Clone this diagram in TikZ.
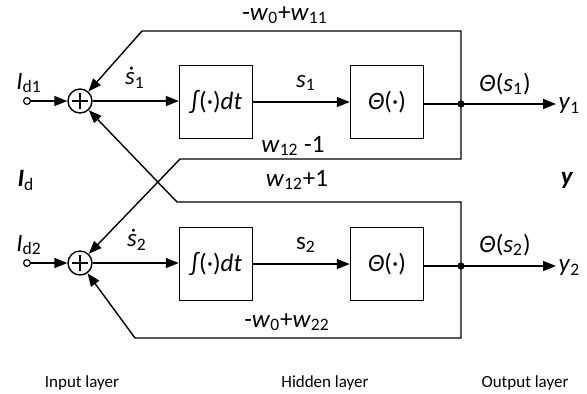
\documentclass[tikz,border=0pt]{standalone}
\usepackage{fontspec}
\setmainfont{Carlito}
\usetikzlibrary{arrows.meta}

\newcommand\lo[1]{\textsubscript{#1}}

\tikzset{
  blk/.style={draw, minimum width=36.5pt, minimum height=36.5pt, inner sep=0pt},
  sumnode/.style={draw, circle, minimum size=12pt, inner sep=0pt,
    path picture={\draw[line width=0.9pt] (path picture bounding box.center) +(-3.8pt,0) -- +(3.8pt,0)
      (path picture bounding box.center) +(0,-3.8pt) -- +(0,3.8pt);}},
  port/.style={draw, circle, fill=white, minimum size=3.4pt, inner sep=0pt, line width=0.6pt},
  jdot/.style={fill, circle, minimum size=3.6pt, inner sep=0pt},
  sig/.style={-{Triangle[length=6.5pt,width=5pt]}},
}

\begin{document}
\begin{tikzpicture}[x=0.5pt,y=-0.5pt,line width=0.7pt,font=\fontsize{12.5}{14}\selectfont]
\useasboundingbox (0,0) rectangle (587,393);

% first neuron
\node[port] (in1) at (27,101) {};
\node[sumnode] (sum1) at (80,101) {};
\node[blk] (int1) at (216,102) {∫(·)\textit{dt}};
\node[blk] (th1) at (387,102) {\textit{Θ}(·)};
\coordinate (j1) at (461,104);
\node[anchor=west, inner sep=1pt] (y1) at (556,106) {\textit{y}\lo{1}};

% second neuron
\node[port] (in2) at (27,263) {};
\node[sumnode] (sum2) at (80,263) {};
\node[blk] (int2) at (216,264) {∫(·)\textit{dt}};
\node[blk] (th2) at (387,264) {\textit{Θ}(·)};
\coordinate (j2) at (461,266);
\node[anchor=west, inner sep=1pt] (y2) at (556,268) {\textit{y}\lo{2}};

% forward paths
\draw[sig] (in1) -- (sum1);
\draw[sig] (sum1) -- (sum1 -| int1.west);
\draw[sig] (int1.east |- th1.west) -- (th1);
\draw (th1.east |- j1) -- (j1);
\draw[sig] (j1) -- (y1.west |- j1);
\node[jdot] at (j1) {};

\draw[sig] (in2) -- (sum2);
\draw[sig] (sum2) -- (sum2 -| int2.west);
\draw[sig] (int2.east |- th2.west) -- (th2);
\draw (th2.east |- j2) -- (j2);
\draw[sig] (j2) -- (y2.west |- j2);
\node[jdot] at (j2) {};

% feedback and cross connections
\coordinate (t1) at (142,31);
\coordinate (c1) at (180,159);
\coordinate (c2) at (177,202);
\coordinate (b2) at (135,338);
\draw[sig] (j1) |- (t1) -- (sum1);
\draw[sig] (j1) |- (c1) -- (sum2);
\draw[sig] (j2) |- (c2) -- (sum1);
\draw[sig] (j2) |- (b2) -- (sum2);

% weights
\node (w11) at (285,15) {-\textit{w}\lo{0}+\textit{w}\lo{11}};
\node (w12a) at (293,146) {\textit{w}\lo{12} -1};
\node (w12b) at (297,180) {\textit{w}\lo{12}+1};
\node (w22) at (287,322) {-\textit{w}\lo{0}+\textit{w}\lo{22}};

% signal names
\node (sd1) at (135,78) {\textit{ṡ}\lo{1}};
\node (sd2) at (137,240) {\textit{ṡ}\lo{2}};
\node (s1) at (306,83) {\textit{s}\lo{1}};
\node (s2) at (306,245) {s\lo{2}};
\node (id1) at (29,83) {\textit{I}\lo{d1}};
\node (id2) at (29,245) {\textit{I}\lo{d2}};
\node (id) at (26,180) {\textbf{\textit{I}}\lo{d}};
\node (yy) at (567,180) {\textbf{\textit{y}}};
\node (o1) at (505,84) {\textit{Θ}(\textit{s}\lo{1})};
\node (o2) at (505,245) {\textit{Θ}(\textit{s}\lo{2})};

% layers
\begin{scope}[font=\fontsize{8.5}{10}\selectfont]
\node (lin) at (82,383) {Input layer};
\node (lhid) at (325,383) {Hidden layer};
\node (lout) at (525,383) {Output layer};
\end{scope}

\end{tikzpicture}
\end{document}
